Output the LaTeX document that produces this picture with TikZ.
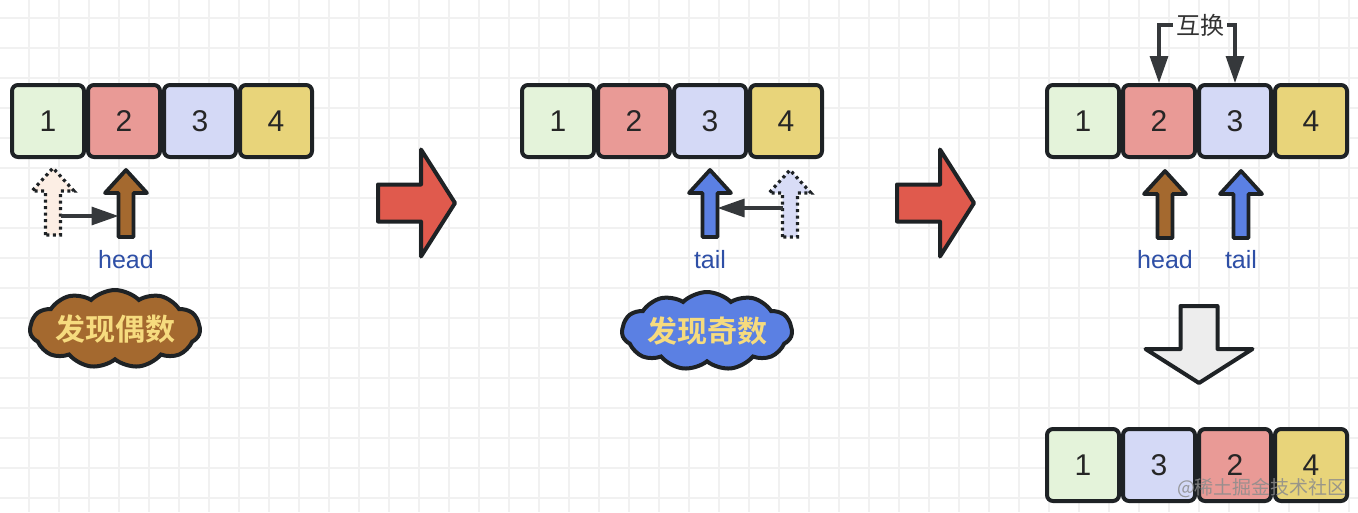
\documentclass[tikz,border=0pt]{standalone}
\usepackage{fontspec}
\setmainfont{Liberation Sans}
\newfontfamily\cjk{Noto Sans CJK SC}[BoldFont={Noto Sans CJK SC Bold}]
\usetikzlibrary{arrows.meta,positioning,shapes.symbols}
\definecolor{edge}{HTML}{1E2225}
\definecolor{cOne}{HTML}{E4F3DA}
\definecolor{cTwo}{HTML}{E99A96}
\definecolor{cThree}{HTML}{D4D9F6}
\definecolor{cFour}{HTML}{E8D47A}
\definecolor{brownA}{HTML}{A4692F}
\definecolor{blueA}{HTML}{5B80E3}
\definecolor{peach}{HTML}{FCEEE4}
\definecolor{lav}{HTML}{D8DCF6}
\definecolor{redA}{HTML}{E05A4D}
\definecolor{greyA}{HTML}{EDEDED}
\definecolor{ptrblue}{HTML}{2E4FA6}
\definecolor{cloudtxt}{HTML}{F6DB7E}
\definecolor{gridc}{HTML}{F1F1F1}
\tikzset{
  cell/.style={draw=edge, line width=4pt, rounded corners=6pt, minimum size=72pt, inner sep=0pt, text=black!85, font=\fontsize{30}{32}\selectfont},
  solid/.style={draw=edge, line width=3.8pt, line join=round},
  ghost/.style={draw=edge, line width=3.2pt, dash pattern=on 3pt off 3.5pt},
  bigstyle/.style={draw=edge, line width=4pt, line join=round},
  conn/.style={-{Triangle[length=27pt,width=18pt]}, line width=3.2pt, draw=edge!90},
  ptr/.style={text=ptrblue, font=\fontsize{25}{28}\selectfont},
  blob/.style={cloud, cloud puffs=11, cloud puff arc=90, aspect=2.8, draw=edge, line width=4pt, minimum width=170pt, minimum height=74pt, inner sep=0pt, text=cloudtxt, font=\cjk\bfseries\fontsize{30}{32}\selectfont},
  swaplbl/.style={text=black!80, inner sep=3pt, font=\cjk\fontsize{24}{28}\selectfont},
  wmark/.style={text=black!45, opacity=0.85, font=\cjk\fontsize{19}{22}\selectfont},
  pics/uparr/.style={code={
    \path[pic actions] (-7.5,0) -- (-7.5,-44) -- (-21,-44) -- (0,-67) -- (21,-44) -- (7.5,-44) -- (7.5,0) -- cycle;
    \coordinate (-l) at (-7.5,-#1);
    \coordinate (-r) at (7.5,-#1);
  }},
  pics/bigarr/.style={code={
    \path[pic actions] (0,-18.5) -- (43,-18.5) -- (43,-53.5) -- (77,0) -- (43,53.5) -- (43,18.5) -- (0,18.5) -- cycle;
  }}
}
\begin{document}
\begin{tikzpicture}[x=1pt,y=-1pt]
\useasboundingbox (0,0) rectangle (1358,512);
% ---- grid ----
\fill[white] (0,0) rectangle (1358,512);
\foreach \x in {29,59,...,1358} \draw[gridc, line width=1.2pt] (\x,0) -- (\x,512);
\foreach \y in {18,48,...,512} \draw[gridc, line width=1.2pt] (0,\y) -- (1358,\y);
% ---- panel 1: even found ----
\node[cell, fill=cOne] (a1) at (48,121) {1};
\node[cell, fill=cTwo, right=0pt of a1] (a2) {2};
\node[cell, fill=cThree, right=0pt of a2] (a3) {3};
\node[cell, fill=cFour, right=0pt of a3] (a4) {4};
\pic[ghost, fill=peach] (g1) at (53,235) {uparr=19};
\pic[solid, fill=brownA] (h1) at (126,237) {uparr=21};
\draw[conn] (g1-r) -- (h1-l);
\node[ptr] (hd1) at (126,260) {head};
\node[blob, fill=brownA] (even) at (115,329) {发现偶数};
\pic[bigstyle, fill=redA] (next1) at (378,203) {bigarr};
% ---- panel 2: odd found ----
\node[cell, fill=cOne] (b1) at (558,121) {1};
\node[cell, fill=cTwo, right=0pt of b1] (b2) {2};
\node[cell, fill=cThree, right=0pt of b2] (b3) {3};
\node[cell, fill=cFour, right=0pt of b3] (b4) {4};
\pic[solid, fill=blueA] (t1) at (710,237) {uparr=29};
\pic[ghost, fill=lav] (g2) at (790,237) {uparr=29};
\draw[conn] (g2-l) -- (t1-r);
\node[ptr] (tl1) at (710,260) {tail};
\node[blob, fill=blueA] (odd) at (707,331) {发现奇数};
\pic[bigstyle, fill=redA] (next2) at (897,203) {bigarr};
% ---- panel 3: swap ----
\node[cell, fill=cOne] (c1) at (1083,121) {1};
\node[cell, fill=cTwo, right=0pt of c1] (c2) {2};
\node[cell, fill=cThree, right=0pt of c2] (c3) {3};
\node[cell, fill=cFour, right=0pt of c3] (c4) {4};
\node[swaplbl] (swap) at (1200,25) {互换};
\draw[conn] (swap.west) -| (c2.north);
\draw[conn] (swap.east) -| (c3.north);
\pic[solid, fill=brownA] (h2) at (1165,238) {uparr=21};
\pic[solid, fill=blueA] (t2) at (1241,238) {uparr=21};
\node[ptr] (hd2) at (1165,260) {head};
\node[ptr] (tl2) at (1241,260) {tail};
\pic[bigstyle, fill=greyA, rotate=-90] (next3) at (1199,306) {bigarr};
% ---- result ----
\node[cell, fill=cOne] (d1) at (1083,465) {1};
\node[cell, fill=cThree, right=0pt of d1] (d2) {3};
\node[cell, fill=cTwo, right=0pt of d2] (d3) {2};
\node[cell, fill=cFour, right=0pt of d3] (d4) {4};
\node[wmark] (wm) at (1262,488) {@稀土掘金技术社区};
\end{tikzpicture}
\end{document}
